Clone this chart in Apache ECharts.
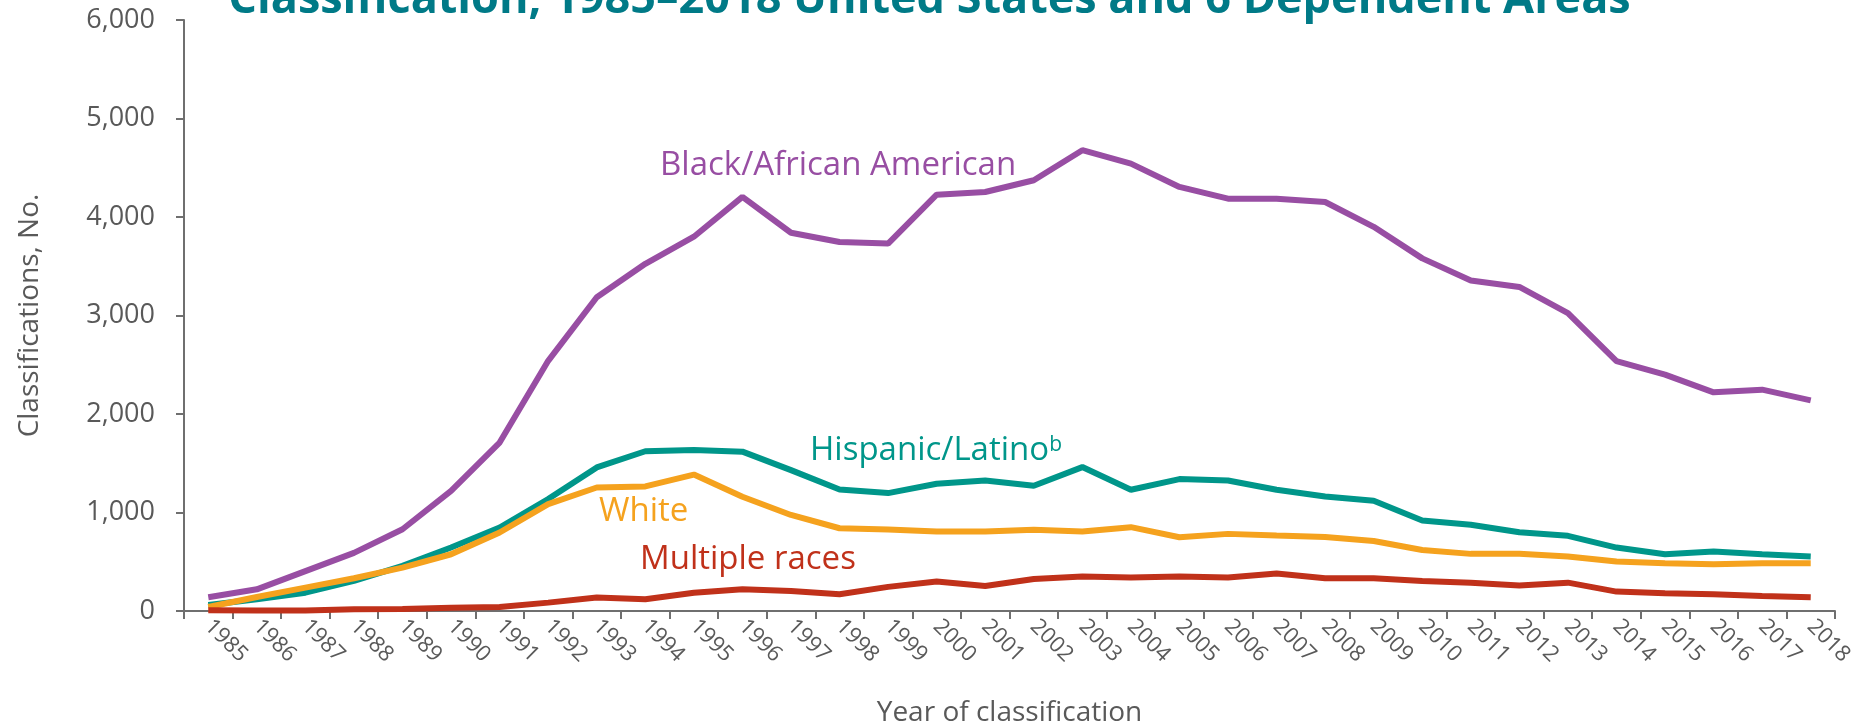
<!DOCTYPE html>
<html>
<head>
<meta charset="UTF-8">
<title>Classifications by race/ethnicity</title>
<style>
  * { margin: 0; padding: 0; }
  html, body { background: #fff; }
  #chart { width: 1859px; height: 724px; }
</style>
</head>
<body>
<div id="chart"></div>
<script src="https://cdn.jsdelivr.net/npm/echarts@6/dist/echarts.min.js"></script>
<script>
// year of classification
var years = ['1985', '1986', '1987', '1988', '1989', '1990', '1991', '1992', '1993', '1994',
  '1995', '1996', '1997', '1998', '1999', '2000', '2001', '2002', '2003', '2004',
  '2005', '2006', '2007', '2008', '2009', '2010', '2011', '2012', '2013', '2014',
  '2015', '2016', '2017', '2018'];

var black = [140, 220, 405, 590, 830, 1220, 1710, 2540, 3185, 3525,
  3800, 4205, 3840, 3746, 3730, 4227, 4254, 4373, 4678, 4542,
  4305, 4186, 4186, 4152, 3900, 3580, 3355, 3290, 3025, 2536,
  2400, 2220, 2247, 2139];

var hispanic = [61, 119, 186, 305, 458, 644, 847, 1136, 1458, 1622,
  1635, 1618, 1430, 1233, 1197, 1292, 1325, 1271, 1461, 1231,
  1339, 1325, 1231, 1163, 1120, 919, 875, 800, 763, 644,
  576, 603, 576, 553];

var white = [41, 142, 237, 332, 441, 576, 797, 1085, 1254, 1265,
  1385, 1160, 975, 840, 828, 807, 807, 824, 807, 851,
  749, 783, 766, 752, 710, 620, 580, 580, 553, 502,
  485, 475, 485, 485];

var multiple = [7, 5, 5, 17, 20, 34, 41, 85, 136, 119,
  186, 220, 203, 170, 245, 300, 254, 325, 350, 339,
  349, 339, 380, 332, 332, 305, 288, 258, 288, 197,
  180, 170, 153, 139];

var yTicks = [0, 1000, 2000, 3000, 4000, 5000, 6000];

var gray = '#595959';
var axisGray = '#6f6f6f';
var font = '"Open Sans", "Noto Sans", sans-serif';

var myChart = echarts.init(document.getElementById('chart'));

function lineSeries(name, data, color) {
  return {
    name: name,
    type: 'line',
    data: data,
    symbol: 'none',
    lineStyle: { color: color, width: 6 },
    itemStyle: { color: color }
  };
}

// series name labels drawn on the plot
function seriesLabel(text, x, y, color) {
  return {
    type: 'text', x: x, y: y,
    style: {
      text: text, font: '33px ' + font, fill: color,
      align: 'left', verticalAlign: 'middle'
    }
  };
}

var option = {
  animation: false,
  backgroundColor: '#fff',
  grid: { left: 184, right: 24, top: 20, bottom: 113, outerBoundsMode: 'none' },
  graphic: [
    {
      type: 'text', left: 'center', top: -22,
      style: {
        text: 'Classification, 1985–2018 United States and 6 Dependent Areas',
        font: 'bold 45px ' + font, fill: '#007a87'
      }
    },
    seriesLabel('Black/African American', 660, 166, '#984ea3'),
    {
      type: 'text', x: 810, y: 451,
      style: {
        text: '{a|Hispanic/Latino}{s|b}',
        align: 'left', verticalAlign: 'middle',
        rich: {
          a: { fontFamily: font, fontSize: 33, fill: '#00968a', verticalAlign: 'bottom' },
          s: { fontFamily: font, fontSize: 21, fill: '#00968a', verticalAlign: 'top' }
        }
      }
    },
    seriesLabel('White', 599, 512, '#f5a21e'),
    seriesLabel('Multiple races', 640, 560, '#c0311a')
  ],
  xAxis: {
    type: 'category',
    data: years,
    boundaryGap: true,
    name: 'Year of classification',
    nameLocation: 'middle',
    nameGap: 88,
    nameTextStyle: { color: gray, fontSize: 28, fontFamily: font },
    axisLine: { lineStyle: { color: axisGray, width: 2 } },
    axisTick: { show: true, interval: 0, length: 8, lineStyle: { color: axisGray, width: 2 } },
    axisLabel: {
      interval: 0, rotate: -45, margin: 12,
      color: gray, fontSize: 22, fontFamily: font
    },
    splitLine: { show: false }
  },
  yAxis: {
    type: 'value',
    min: yTicks[0],
    max: yTicks[yTicks.length - 1],
    interval: 1000,
    name: 'Classifications, No.',
    nameLocation: 'middle',
    nameGap: 140,
    nameTextStyle: { color: gray, fontSize: 28, fontFamily: font },
    axisLine: { show: true, lineStyle: { color: axisGray, width: 2 } },
    axisTick: { show: true, length: 8, lineStyle: { color: axisGray, width: 2 } },
    axisLabel: {
      margin: 29, color: gray, fontSize: 27, fontFamily: font,
      formatter: function (v) { return v.toLocaleString('en-US'); }
    },
    splitLine: { show: false }
  },
  series: [
    lineSeries('Black/African American', black, '#984ea3'),
    lineSeries('Hispanic/Latino', hispanic, '#00968a'),
    lineSeries('White', white, '#f5a21e'),
    lineSeries('Multiple races', multiple, '#c0311a')
  ]
};

myChart.setOption(option);
window.addEventListener('resize', function () { myChart.resize(); });
</script>
</body>
</html>
